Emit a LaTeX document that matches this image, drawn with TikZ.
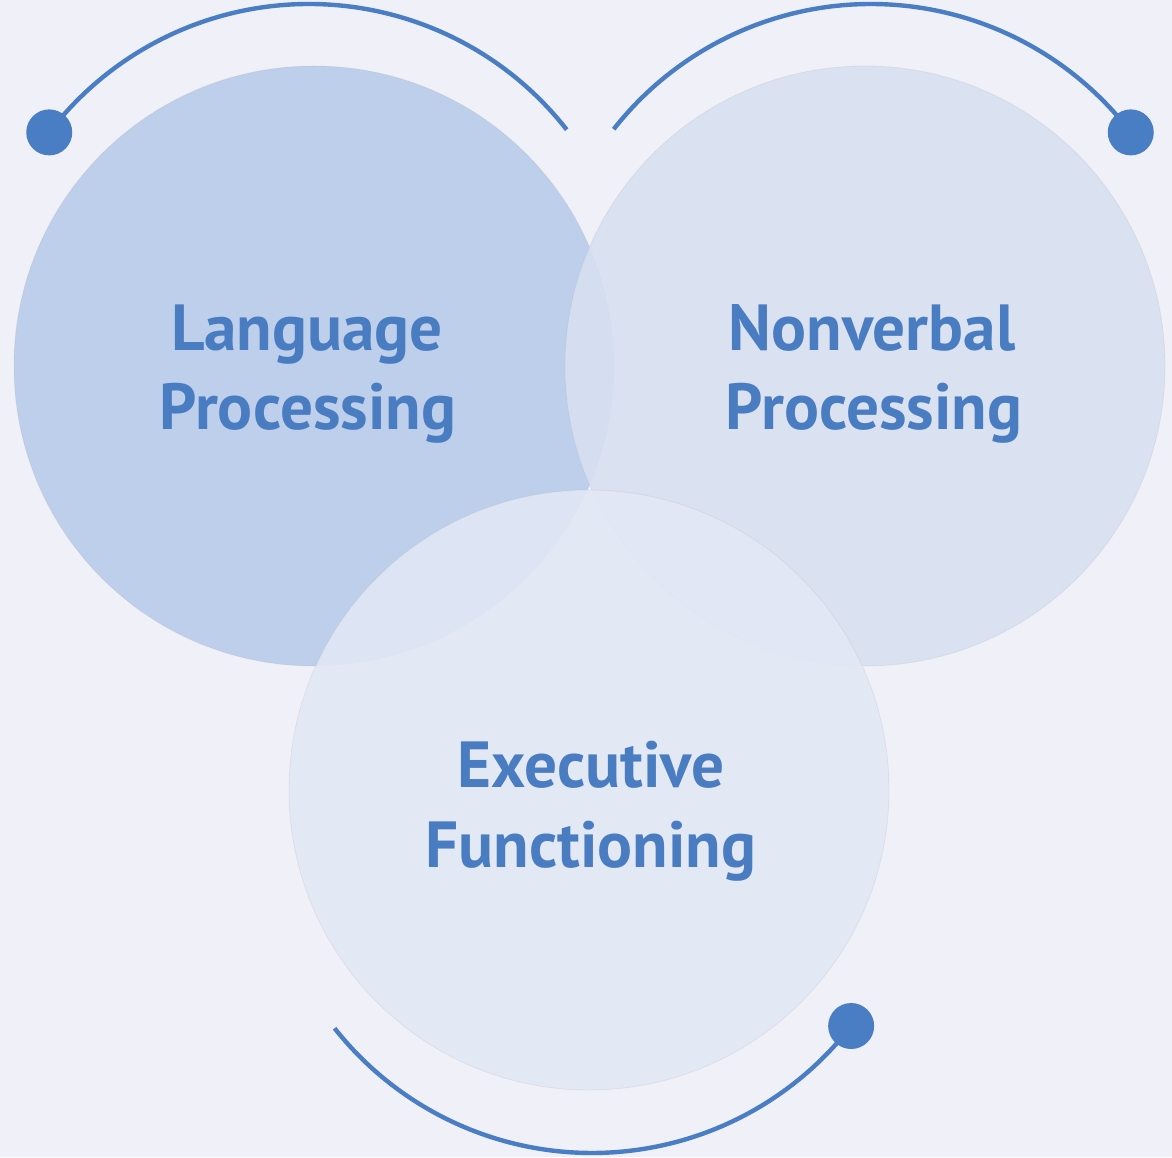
\documentclass[tikz,border=0pt]{standalone}
\usepackage{fontspec}
\setmainfont{PT Sans}
\usetikzlibrary{calc}

\definecolor{bgcol}{RGB}{240,240,248}
\definecolor{langfill}{RGB}{189,207,234}
\definecolor{nonvfill}{RGB}{216,225,241}
\definecolor{execfill}{RGB}{226,232,245}
\definecolor{accent}{RGB}{74,126,196}
\definecolor{labelblue}{RGB}{74,124,194}

\tikzset{
  venn/.style={circle, minimum size=300pt, inner sep=0pt,
    draw=gray!70, draw opacity=0.18, line width=0.4pt},
  label text/.style={font=\bfseries\fontsize{32.6}{40}\selectfont,
    text=labelblue, anchor=base, inner sep=0pt},
  orbit/.style={draw=accent, line width=2.2pt},
  orbit dot/.style={circle, fill=accent, minimum size=23pt, inner sep=0pt}
}

\begin{document}
\begin{tikzpicture}[x=0.5pt,y=0.5pt]
  % canvas
  \fill[bgcol] (0,0) rectangle (1172,1157);
  \useasboundingbox (0,0) rectangle (1172,1157);

  % the three overlapping areas
  \node[venn, fill=langfill] (lang) at (314,791) {};
  \node[venn, fill=nonvfill, fill opacity=0.88] (nonv) at (865,791) {};
  \node[venn, fill=execfill, fill opacity=0.88] (exec) at (589,367) {};

  % centres of the decorative orbits
  \coordinate (o1) at (309,826);
  \coordinate (o2) at (871,826);
  \coordinate (o3) at (592,332);

  % orbit end points and dots
  \coordinate (e1) at ($(o1)+(38:163.5pt)$);
  \node[orbit dot] (d1) at ($(o1)+(142.6:163.5pt)$) {};
  \coordinate (e2) at ($(o2)+(141.9:163.5pt)$);
  \node[orbit dot] (d2) at ($(o2)+(37.4:163.5pt)$) {};
  \coordinate (e3) at ($(o3)+(218.3:164pt)$);
  \node[orbit dot] (d3) at ($(o3)+(322.2:164pt)$) {};

  % orbits
  \draw[orbit] (e1) arc[start angle=38, end angle=142.6, radius=163.5pt];
  \draw[orbit] (e2) arc[start angle=141.9, end angle=37.4, radius=163.5pt];
  \draw[orbit] (e3) arc[start angle=218.3, end angle=322.2, radius=164pt];

  % labels
  \node[label text] (lang1) at (307,806) {Language};
  \node[label text] (lang2) at (308,727) {Processing};
  \node[label text] (nonv1) at (872,806) {Nonverbal};
  \node[label text] (nonv2) at (874,727) {Processing};
  \node[label text] (exec1) at (591,369) {Executive};
  \node[label text] (exec2) at (591,289) {Functioning};
\end{tikzpicture}
\end{document}
